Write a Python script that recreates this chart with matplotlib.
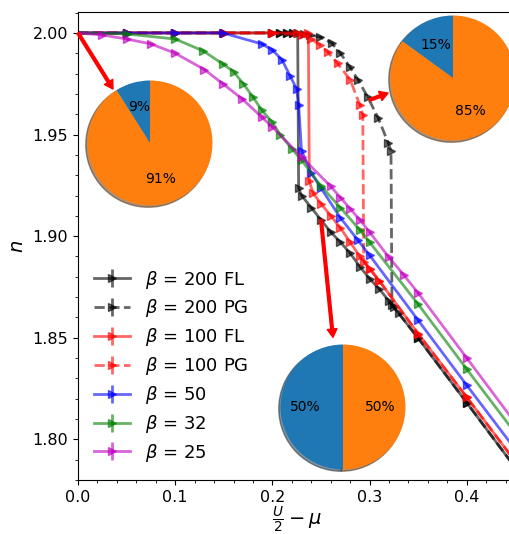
import numpy as np
import matplotlib
matplotlib.use('Agg')
from matplotlib import pyplot as plt
from matplotlib.ticker import MultipleLocator

# beta = 200, first-order line (FL)
x_200fl = [0, 0.05, 0.1, 0.15, 0.2, 0.208, 0.215, 0.221, 0.226, 0.227, 0.23, 0.24, 0.25,
           0.26, 0.27, 0.28, 0.29, 0.3, 0.31, 0.32, 0.325, 0.35, 0.4, 0.45]
n_200fl = [2.0, 2.0, 2.0, 2.0, 2.0, 2.0, 2.0, 2.0, 2.0, 1.9236, 1.920, 1.914, 1.908,
           1.902, 1.897, 1.8916, 1.885, 1.879, 1.874, 1.868, 1.865, 1.8498, 1.818, 1.786]
# beta = 200, PG
x_200pg = [0, 0.05, 0.1, 0.15, 0.2, 0.208, 0.215, 0.221, 0.233, 0.239, 0.249, 0.261,
           0.27, 0.28, 0.288, 0.298, 0.309, 0.319, 0.322, 0.323, 0.33, 0.35, 0.4, 0.45]
n_200pg = [2.0, 2.0, 2.0, 2.0, 2.0, 2.0, 2.0, 2.0, 1.9995, 1.999, 1.998, 1.995,
           1.990, 1.983, 1.977, 1.9685, 1.958, 1.946, 1.942, 1.866, 1.862, 1.8498, 1.818, 1.786]
# beta = 100 FL
x_100fl = [0, 0.05, 0.1, 0.15, 0.2, 0.225, 0.237, 0.238, 0.242, 0.25, 0.26, 0.27,
           0.28, 0.29, 0.3, 0.31, 0.35, 0.4, 0.45]
n_100fl = [2.0, 2.0, 2.0, 2.0, 2.0, 2.0, 2.0, 1.927, 1.921, 1.916, 1.910, 1.904,
           1.897, 1.890, 1.884, 1.878, 1.852, 1.8207, 1.789]
# beta = 100 PG
x_100pg = [0, 0.05, 0.1, 0.15, 0.2, 0.23, 0.24, 0.249, 0.257, 0.267, 0.28, 0.29,
           0.293, 0.294, 0.3, 0.31, 0.35, 0.4, 0.45]
n_100pg = [2.0, 2.0, 2.0, 2.0, 2.0, 1.999, 1.997, 1.994, 1.9906, 1.985, 1.977, 1.9645,
           1.9596, 1.8875, 1.884, 1.878, 1.852, 1.8207, 1.789]
# beta = 50
x_50 = [0, 0.05, 0.1, 0.149, 0.189, 0.2, 0.21, 0.218, 0.225, 0.227, 0.23, 0.24,
        0.25, 0.27, 0.288, 0.3, 0.35, 0.4, 0.45]
n_50 = [2.0, 2.0, 2.0, 2.0, 1.9946, 1.9916, 1.9867, 1.979, 1.9724, 1.9645, 1.942, 1.931,
        1.9236, 1.909, 1.898, 1.8906, 1.8586, 1.8266, 1.795]
# beta = 32
x_32 = [0, 0.05, 0.1, 0.129, 0.149, 0.16, 0.17, 0.18, 0.189, 0.2, 0.208, 0.22,
        0.23, 0.25, 0.27, 0.29, 0.3, 0.35, 0.4, 0.45]
n_32 = [2.0, 1.9995, 1.997, 1.9911, 1.9847, 1.981, 1.975, 1.9685, 1.962, 1.956, 1.950, 1.943,
        1.9374, 1.9246, 1.914, 1.903, 1.897, 1.8665, 1.8345, 1.803]
# beta = 25
x_25 = [0, 0.025, 0.05, 0.075, 0.1, 0.13, 0.149, 0.169, 0.189, 0.2, 0.23, 0.26,
        0.27, 0.28, 0.29, 0.3, 0.32, 0.335, 0.35, 0.4, 0.45]
n_25 = [2.0, 1.999, 1.997, 1.9946, 1.990, 1.982, 1.975, 1.9675, 1.9586, 1.9537, 1.939, 1.9245,
        1.919, 1.9135, 1.908, 1.902, 1.8895, 1.881, 1.872, 1.840, 1.808]

# pie fractions (first wedge blue)
pie_left = [9, 91]
pie_right = [15, 85]
pie_mid = [50, 50]

W, H = 509, 534
fig = plt.figure(figsize=(W / 100, H / 100), dpi=100)
ax = fig.add_axes([78 / W, 1 - 480 / H, (515.4 - 78) / W, (480 - 12) / H])

series = [
    (x_200fl, n_200fl, 'k', '-', r'$\beta$ = 200 FL'),
    (x_200pg, n_200pg, 'k', '--', r'$\beta$ = 200 PG'),
    (x_100fl, n_100fl, 'r', '-', r'$\beta$ = 100 FL'),
    (x_100pg, n_100pg, 'r', '--', r'$\beta$ = 100 PG'),
    (x_50, n_50, 'b', '-', r'$\beta$ = 50'),
    (x_32, n_32, 'g', '-', r'$\beta$ = 32'),
    (x_25, n_25, 'm', '-', r'$\beta$ = 25'),
]
for xs, ns, c, ls, lab in series:
    ax.errorbar(xs, ns, yerr=0.0003, color=c, ls=ls, marker='>', ms=6,
                lw=2, alpha=0.6, label=lab)

ax.set_xlim(0, 0.45)
ax.set_ylim(1.78, 2.0103)
ax.xaxis.set_major_locator(MultipleLocator(0.1))
ax.xaxis.set_minor_locator(MultipleLocator(0.02))
ax.yaxis.set_major_locator(MultipleLocator(0.05))
ax.yaxis.set_minor_locator(MultipleLocator(0.01))
ax.tick_params(labelsize=11.5)
ax.set_xlabel(r'$\frac{U}{2}-\mu$', fontsize=14, labelpad=0)
ax.set_ylabel(r'$n$', fontsize=14)
ax.legend(loc='lower left', frameon=False, fontsize=13, labelspacing=0.38)

arrow = dict(facecolor='red', edgecolor='red', width=2, headwidth=7, headlength=6)
ax.annotate('', xy=(0.036, 1.9724), xytext=(0.0, 2.0), arrowprops=arrow)
ax.annotate('', xy=(0.319, 1.9704), xytext=(0.300, 1.967), arrowprops=arrow)
ax.annotate('', xy=(0.2623, 1.8502), xytext=(0.250, 1.908), arrowprops=arrow)


def pie_axes(cx, cy, r):
    w = 2.5 * r
    return fig.add_axes([(cx - w / 2) / W, 1 - (cy + w / 2) / H, w / W, w / H])


for (cx, cy), vals in [((150, 143), pie_left), ((453, 78), pie_right), ((343, 407), pie_mid)]:
    pa = pie_axes(cx, cy, 62.5)
    pa.pie(vals, colors=['C0', 'C1'], autopct='%1.0f%%', startangle=90, shadow=True)

fig.savefig('out.png', dpi=100)
